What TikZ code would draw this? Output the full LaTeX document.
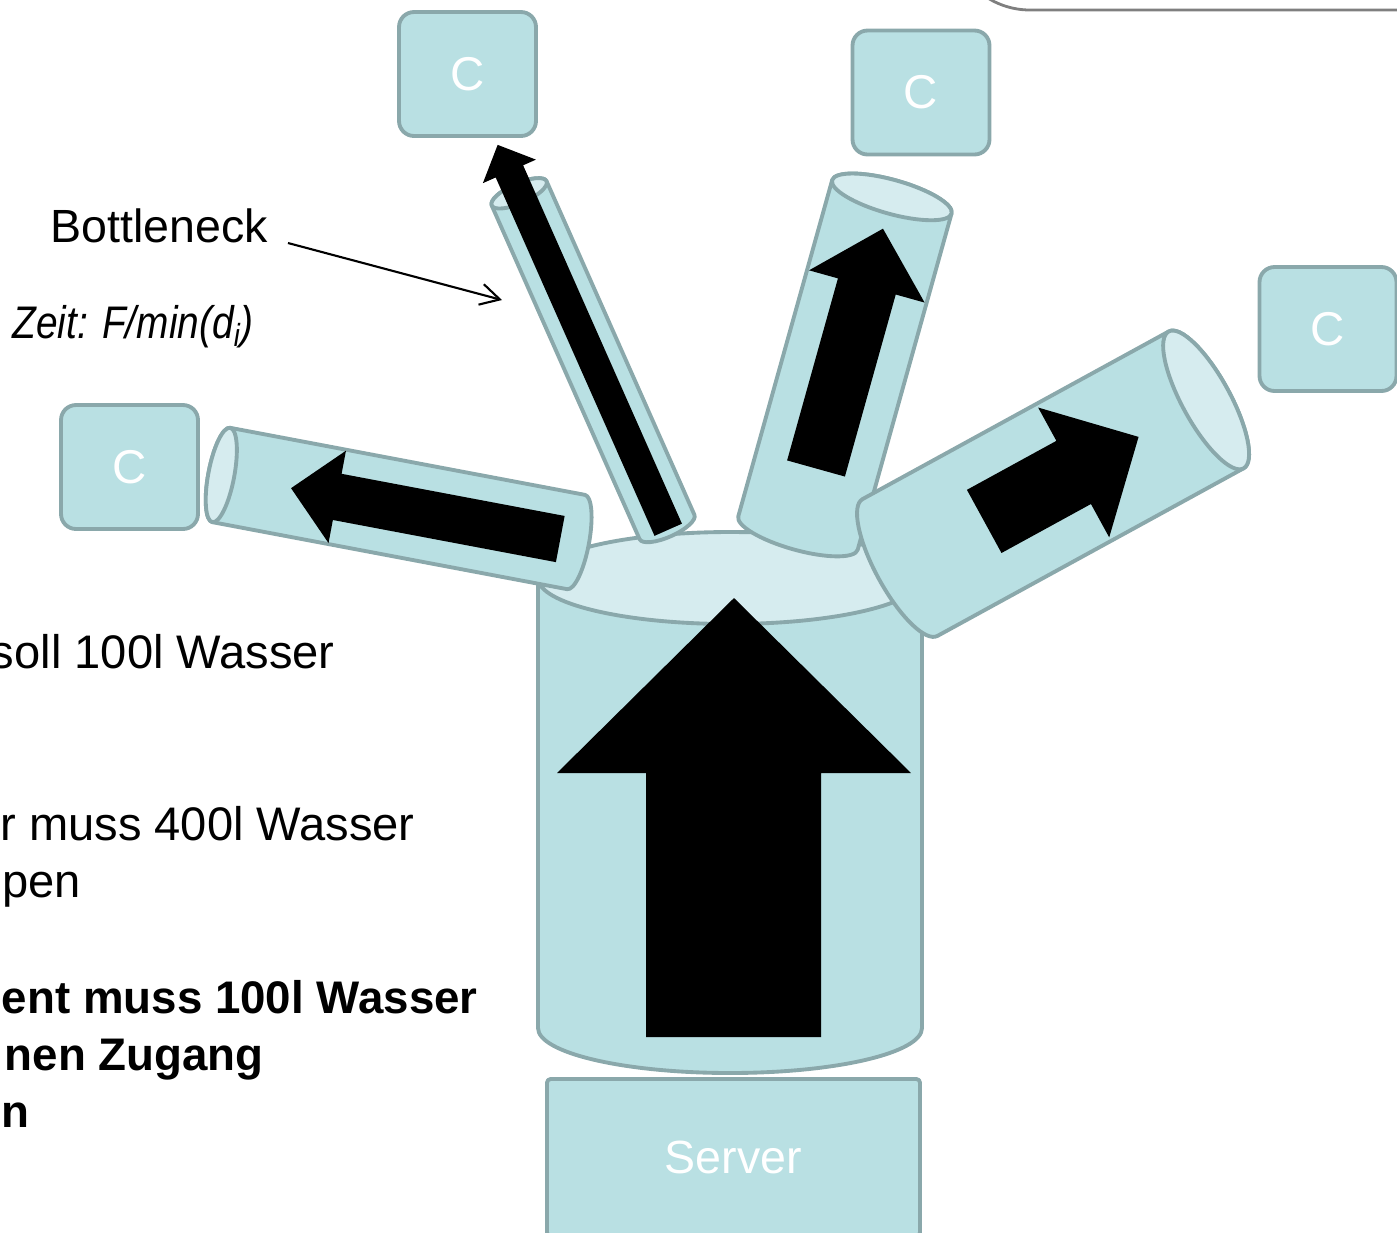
\documentclass[tikz,border=0pt]{standalone}
\usepackage{fontspec}
\usepackage{graphicx}
\setmainfont{Liberation Sans}
\usetikzlibrary{arrows.meta,calc}

\definecolor{pipefill}{HTML}{B9E0E3}
\definecolor{pipecap}{HTML}{D6ECEF}
\definecolor{pipeedge}{HTML}{8AA8AB}
\definecolor{framegray}{HTML}{7F7F7F}

\tikzset{
  pipeline/.style={draw=pipeedge, line width=2.2pt, line join=round},
  client/.style={pipeline, fill=pipefill, rounded corners=0.3cm,
    minimum width=2.74cm, minimum height=2.48cm, inner sep=0pt,
    text=white, font=\fontsize{27}{32}\selectfont},
  flow/.style={fill=black},
  notetext/.style={inner sep=0pt, font=\fontsize{26.8}{31}\selectfont},
  boldnote/.style={inner sep=0pt, font=\fontsize{26}{31}\selectfont\bfseries},
}

% a pipe: near-end centre (x,y), direction angle, length, radius, depth of the end ellipses
\newcommand\pipe[6]{%
  \begin{scope}[shift={(#1,#2)},rotate=#3]
    \draw[pipeline,fill=pipefill] (0,-#5) -- (#4,-#5)
      arc[start angle=-90,end angle=90,x radius=#6,y radius=#5] -- (0,#5)
      arc[start angle=90,end angle=270,x radius=#6,y radius=#5] -- cycle;
    \draw[pipeline,fill=pipecap] (#4,0) ellipse[x radius=#6,y radius=#5];
  \end{scope}}

% flow arrow along a pipe axis: x, y, angle, tail, head base, tip, shaft half width, head half width
\newcommand\pipearrow[8]{%
  \fill[flow,shift={(#1,#2)},rotate=#3] (#4,-#7) -- (#5,-#7) -- (#5,-#8) -- (#6,0)
    -- (#5,#8) -- (#5,#7) -- (#4,#7) -- cycle;}

\begin{document}
\begin{tikzpicture}[x=0.02cm,y=-0.02cm]
\useasboundingbox (0,0) rectangle (1397,1232);

% frame in the upper right corner
\draw[framegray, line width=1.6pt, fill=white, rounded corners=1.6cm]
  (950,-200) rectangle (1520,10);

% server
\node[pipeline, fill=pipefill, minimum width=7.46cm, minimum height=3.14cm,
  inner sep=0pt, rounded corners=2pt, text=white, font=\fontsize{26.5}{32}\selectfont]
  (server) at (733.5,1157.5) {Server};

% main tank
\draw[pipeline, fill=pipefill] (538,578) -- (538,1028)
  arc[start angle=180,end angle=0,x radius=192,y radius=45] -- (922,578) -- cycle;
\draw[pipeline, fill=pipecap] (730,578) ellipse[x radius=192,y radius=46];
\fill[flow] (646,1037) -- (646,773) -- (557,773) -- (734,598) -- (911,773)
  -- (821,773) -- (821,1037) -- cycle;

% pipes to the clients
\pipe{576}{542}{169.3}{361}{48}{13}
\pipearrow{576}{542}{169.3}{16}{243}{290}{23.5}{47}
\pipe{667}{527}{113.9}{365}{30}{10}
\pipearrow{667}{527}{113.9}{-3}{389}{418}{15}{29}
\pipe{798}{533}{74.4}{349}{62}{17}
\pipearrow{798}{533}{74.4}{67}{256}{316}{30}{60}
\pipe{900}{567.5}{28.7}{349}{78}{24}
\pipearrow{900}{567.5}{28.7}{96}{198}{272}{36}{74}

% clients
\node[client] (c1) at (467.5,74) {C};
\node[client] (c2) at (921,92.5) {C};
\node[client] (c3) at (1328,329) {C};
\node[client] (c4) at (129.5,467) {C};

% bottleneck note
\node[inner sep=0pt, font=\fontsize{26.5}{31}\selectfont, anchor=base west]
  (bn) at (50,242) {Bottleneck};
\node[inner sep=0pt, anchor=base west, font=\fontsize{26}{30}\selectfont\itshape]
  (zeit) at (12,338) {\scalebox{0.85}[1]{Zeit: F/min(d\textsubscript{i})}};
\coordinate (bnfrom) at (288,243);
\coordinate (bnto) at (502,300);
\draw[line width=1.2pt, -{Straight Barb[length=11pt,width=12pt]}] (bnfrom) -- (bnto);

% text on the left
\node[notetext, anchor=base east] (l1) at (335,668) {soll 100l Wasser};
\node[notetext, anchor=base east] (l2) at (415,840) {r muss 400l Wasser};
\node[notetext, anchor=base east] (l3) at (81,897) {pen};
\node[boldnote, anchor=base east] (b1) at (478,1013) {ent muss 100l Wasser};
\node[boldnote, anchor=base east] (b2) at (264,1070) {nen Zugang};
\node[boldnote, anchor=base east] (b3) at (30,1127) {en};
\end{tikzpicture}
\end{document}
